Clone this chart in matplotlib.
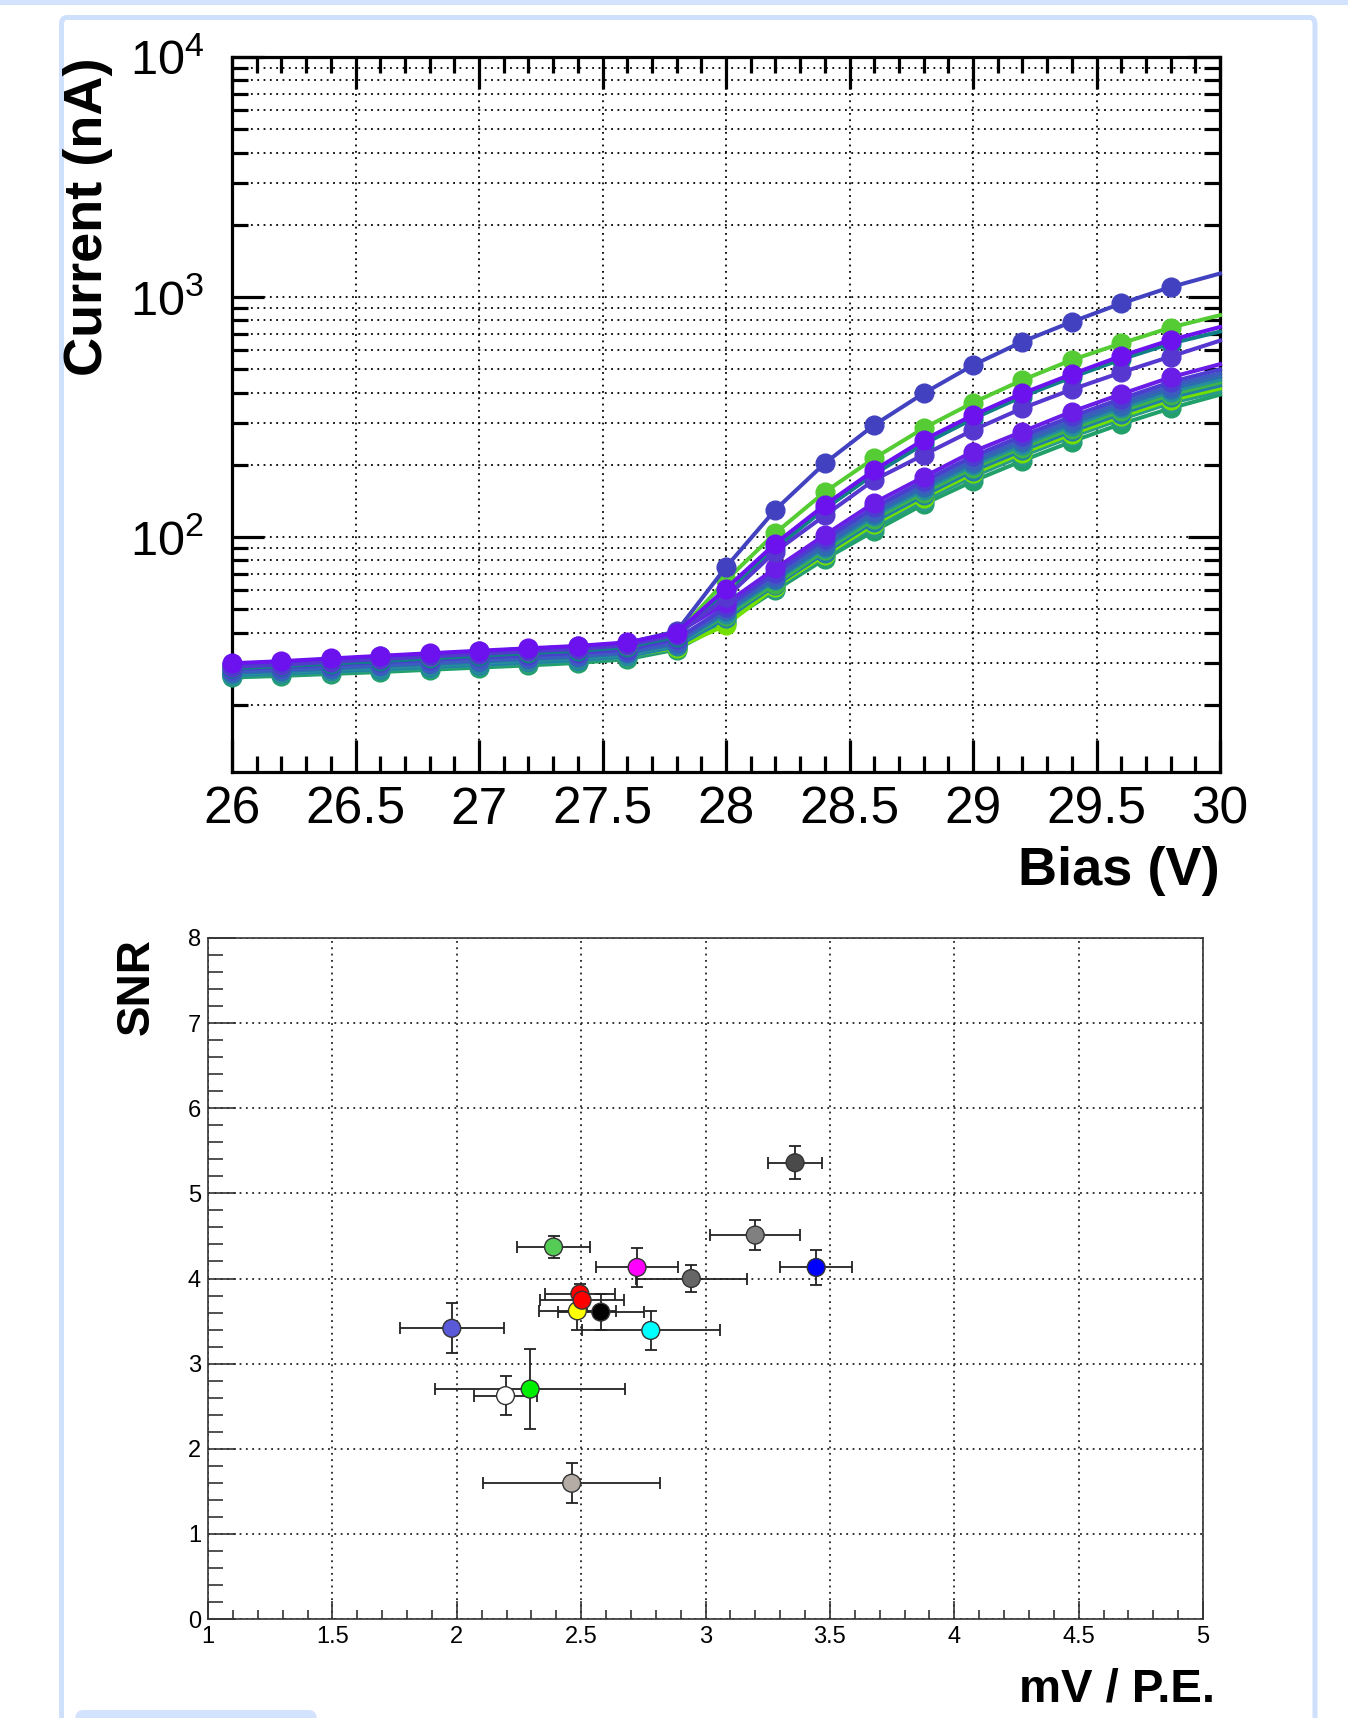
#IV scan of the SiPM channels + SNR vs gain
import matplotlib.pyplot as plt
import matplotlib.ticker as mtick
from matplotlib.patches import Rectangle, FancyBboxPatch

plt.rcParams['font.family'] = ['Liberation Sans', 'DejaVu Sans']
plt.rcParams['mathtext.fontset'] = 'custom'
plt.rcParams['mathtext.rm'] = 'Liberation Sans'
plt.rcParams['mathtext.bf'] = 'Liberation Sans:bold'

W, H = 1348, 1718  # pixels

# ---- top: current vs bias ----
bias = [26.0, 26.2, 26.4, 26.6, 26.8, 27.0, 27.2, 27.4, 27.6, 27.8,
        28.0, 28.2, 28.4, 28.6, 28.8, 29.0, 29.2, 29.4, 29.6, 29.8, 30.0]

cur_b1 = [29.6, 30.2, 31.0, 31.8, 32.6, 33.4, 34.2, 35.0, 36.2, 40.5,
          75, 130, 203, 293, 397, 520, 652, 788, 940, 1100, 1253]
cur_g1 = [29.0, 29.6, 30.4, 31.2, 32.0, 32.8, 33.6, 34.4, 35.6, 39.5,
          66, 104, 154, 213, 284, 363, 451, 547, 641, 746, 840]
cur_p1 = [29.8, 30.4, 31.2, 32.0, 32.8, 33.6, 34.4, 35.2, 36.4, 40.0,
          61, 94, 136, 190, 254, 322, 397, 477, 568, 662, 750]
cur_t1 = [28.4, 29.0, 29.7, 30.4, 31.2, 32.0, 32.8, 33.6, 34.8, 38.5,
          59, 90, 131, 183, 244, 311, 385, 463, 550, 640, 718]
cur_v1 = [28.8, 29.4, 30.2, 31.0, 31.8, 32.6, 33.4, 34.2, 35.4, 39.2,
          56, 87, 123, 173, 220, 279, 344, 412, 485, 565, 658]
cur_l1 = [29.4, 30.0, 30.8, 31.6, 32.4, 33.2, 34.0, 34.8, 36.0, 39.8,
          53, 74, 102, 139, 178, 227, 275, 333, 394, 463, 525]
cur_l2 = [28.2, 28.7, 29.4, 30.1, 30.8, 31.5, 32.2, 32.9, 34.0, 37.6,
          51, 71, 98, 133, 171, 217, 264, 318, 377, 442, 500]
cur_l3 = [27.6, 28.1, 28.7, 29.4, 30.0, 30.7, 31.4, 32.1, 33.2, 36.6,
          50, 69, 95, 129, 166, 210, 256, 307, 364, 427, 482]
cur_l4 = [27.2, 27.7, 28.3, 29.0, 29.6, 30.3, 31.0, 31.7, 32.8, 36.0,
          49, 67, 92, 125, 161, 204, 248, 298, 353, 414, 466]
cur_l5 = [26.9, 27.4, 28.0, 28.6, 29.2, 29.9, 30.6, 31.3, 32.4, 35.5,
          48, 66, 90, 122, 157, 199, 242, 291, 344, 403, 452]
cur_l6 = [27.0, 27.5, 28.1, 28.7, 29.3, 30.0, 30.7, 31.4, 32.5, 35.8,
          47, 64, 88, 119, 153, 194, 236, 283, 335, 392, 440]
cur_l7 = [26.6, 27.1, 27.6, 28.2, 28.8, 29.4, 30.1, 30.8, 31.9, 35.0,
          46, 63, 86, 116, 149, 189, 230, 276, 327, 382, 428]
cur_l8 = [26.8, 27.3, 27.8, 28.4, 29.0, 29.6, 30.3, 31.0, 32.0, 34.6,
          43, 62, 84, 113, 146, 184, 224, 269, 318, 372, 416]
cur_l9 = [26.3, 26.8, 27.3, 27.9, 28.5, 29.1, 29.8, 30.5, 31.5, 34.5,
          45, 61, 83, 110, 142, 179, 218, 262, 310, 362, 404]
cur_l10 = [26.0, 26.4, 26.9, 27.4, 28.0, 28.6, 29.2, 29.9, 31.0, 34.0,
           44, 60, 81, 106, 137, 171, 208, 250, 296, 344, 392]

# draw order = list order (last on top)
iv_curves = [cur_l10, cur_l9, cur_l8, cur_l7, cur_l6, cur_l5, cur_l4, cur_l3,
             cur_l2, cur_l1, cur_t1, cur_g1, cur_v1, cur_b1, cur_p1]
iv_colors = ['#21a06a', '#2a9a88', '#74e000', '#207ea8', '#3db34a', '#25909c',
             '#2c6caf', '#3c5cbf', '#4a3dd0', '#6a1de6', '#107f86', '#55cc33',
             '#5637cf', '#4242c0', '#6c12ee']

# ---- bottom: SNR vs mV/PE ----
gain = [3.36, 3.20, 3.445, 2.725, 2.943, 2.389, 2.504, 2.495, 2.485, 2.579,
        2.78, 1.98, 2.196, 2.295, 2.462]
gain_err = [0.107, 0.181, 0.145, 0.166, 0.222, 0.145, 0.168, 0.14, 0.154, 0.173,
            0.278, 0.208, 0.125, 0.382, 0.356]
snr = [5.36, 4.51, 4.13, 4.13, 4.00, 4.37, 3.745, 3.82, 3.62, 3.605,
       3.39, 3.415, 2.624, 2.70, 1.595]
snr_err = [0.195, 0.172, 0.21, 0.225, 0.16, 0.13, 0.1, 0.12, 0.22, 0.21,
           0.23, 0.294, 0.227, 0.47, 0.235]
pt_colors = ['#4a4a4a', '#808080', '#0000ff', '#ff00ff', '#666666', '#55cc55',
             '#ff0000', '#ff0000', '#ffff00', '#000000', '#00ffff', '#5a5ad8',
             '#ffffff', '#00ee00', '#b5ada5']

fig = plt.figure(figsize=(W / 100, H / 100), dpi=100)

# page decoration (screenshot frame), kept behind the axes
fig.patches.append(Rectangle((0, 1 - 5 / H), 1, 5 / H, transform=fig.transFigure,
                             facecolor='#d3e3fd', edgecolor='none', zorder=-10))
fig.patches.append(FancyBboxPatch((61.5 / W, -0.05), (1315 - 61.5) / W, 1 - 17.5 / H + 0.05,
                                  boxstyle='round,pad=0,rounding_size=0.004',
                                  transform=fig.transFigure, facecolor='white',
                                  edgecolor='#cfe0fc', linewidth=3.6, zorder=-10))
fig.patches.append(FancyBboxPatch((75 / W, -0.02), (317 - 75) / W, 0.02 + 8 / H,
                                  boxstyle='round,pad=0,rounding_size=0.006',
                                  transform=fig.transFigure, facecolor='#d3e3fd',
                                  edgecolor='none', zorder=-10))

dot = (0, (1, 2.5))

ax1 = fig.add_axes([232 / W, 1 - 772 / H, (1220 - 232) / W, (772 - 57) / H])
ax1.set_yscale('log')
for cur, col in zip(iv_curves, iv_colors):
    ax1.plot(bias, cur, color=col, lw=2.9, marker='o', ms=13.5, mec=col,
             markevery=slice(0, len(bias) - 1), clip_on=False, zorder=3)
ax1.set_xlim(26, 30)
ax1.set_ylim(10.5, 1e4)
ax1.xaxis.set_major_locator(mtick.MultipleLocator(0.5))
ax1.xaxis.set_minor_locator(mtick.MultipleLocator(0.1))
ax1.xaxis.set_major_formatter(mtick.FormatStrFormatter('%g'))
ax1.yaxis.set_major_locator(mtick.LogLocator(base=10, numticks=10))
ax1.yaxis.set_minor_locator(mtick.LogLocator(base=10, subs=(2, 3, 4, 5, 6, 7, 8, 9), numticks=20))
ax1.yaxis.set_minor_formatter(mtick.NullFormatter())
ax1.grid(True, which='major', axis='x', color='black', lw=1.3, ls=dot)
ax1.grid(True, which='both', axis='y', color='black', lw=1.3, ls=dot)
ax1.tick_params(which='both', direction='in', top=True, right=True, width=2.3, color='black')
ax1.tick_params(which='major', length=23)
ax1.tick_params(which='minor', length=11.5)
ax1.tick_params(axis='x', labelsize=37, pad=10)
ax1.tick_params(axis='y', labelsize=35, pad=20)
for s in ax1.spines.values():
    s.set_linewidth(2.3)
fig.text(88 / W, 1 - 57 / H, 'Current (nA)', rotation=90, ha='center', va='top',
         fontsize=39, fontweight='bold')
fig.text(1220 / W, 1 - 871 / H, 'Bias (V)', ha='right', va='center',
         fontsize=39, fontweight='bold')

ax2 = fig.add_axes([208 / W, 1 - 1619 / H, (1203 - 208) / W, (1619 - 938) / H])
ax2.errorbar(gain, snr, xerr=gain_err, yerr=snr_err, fmt='none', ecolor='#222222',
             elinewidth=1.3, capsize=4.5, capthick=1.3, zorder=3)
ax2.scatter(gain[::-1], snr[::-1], s=165, c=pt_colors[::-1], edgecolors='#333333',
            linewidths=1.0, zorder=4)
ax2.set_xlim(1, 5)
ax2.set_ylim(0, 8)
ax2.xaxis.set_major_locator(mtick.MultipleLocator(0.5))
ax2.xaxis.set_minor_locator(mtick.MultipleLocator(0.1))
ax2.xaxis.set_major_formatter(mtick.FormatStrFormatter('%g'))
ax2.yaxis.set_major_locator(mtick.MultipleLocator(1))
ax2.yaxis.set_minor_locator(mtick.MultipleLocator(0.2))
ax2.grid(True, which='major', color='#222222', lw=1.3, ls=dot)
ax2.tick_params(which='both', direction='in', width=1.2, color='#333333', labelsize=17)
ax2.tick_params(axis='x', which='major', length=13, pad=5)
ax2.tick_params(axis='x', which='minor', length=6.5)
ax2.tick_params(axis='y', which='major', length=20, pad=5)
ax2.tick_params(axis='y', which='minor', length=11)
for s in ax2.spines.values():
    s.set_linewidth(1.2)
    s.set_color('#333333')
fig.text(137 / W, 1 - 938 / H, 'SNR', rotation=90, ha='center', va='top',
         fontsize=33, fontweight='bold')
fig.text(1215 / W, 1 - 1690 / H, 'mV / P.E.', ha='right', va='center',
         fontsize=34, fontweight='bold')

plt.savefig('out.png', dpi=100, facecolor='white')
